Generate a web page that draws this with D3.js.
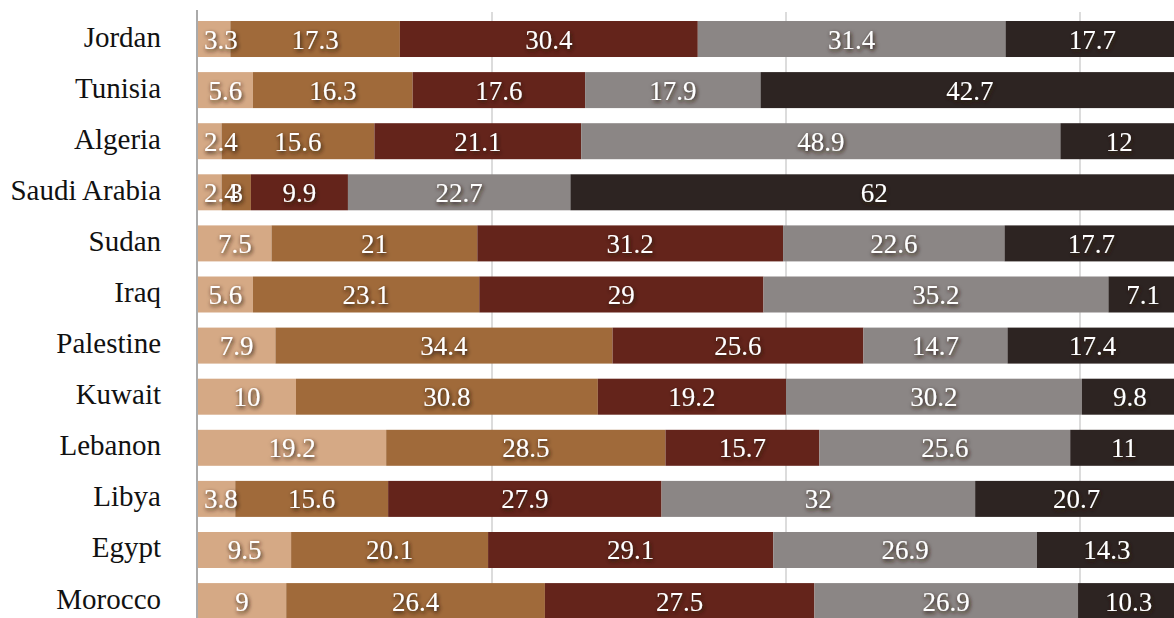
<!DOCTYPE html>
<html>
<head>
<meta charset="utf-8">
<script src="https://cdn.jsdelivr.net/npm/d3@7"></script>
<style>
  html, body { margin: 0; padding: 0; background: #fff; }
  svg { display: block; }
  text { font-family: "Liberation Serif", serif; }
</style>
</head>
<body>
<svg id="chart" width="1174" height="618"></svg>
<script>
// Countries, top to bottom
const countries = ["Jordan", "Tunisia", "Algeria", "Saudi Arabia", "Sudan", "Iraq",
  "Palestine", "Kuwait", "Lebanon", "Libya", "Egypt", "Morocco"];

// Five response shares per country (percent), stacked left to right
const share1 = [3.3, 5.6, 2.4, 2.4, 7.5, 5.6, 7.9, 10, 19.2, 3.8, 9.5, 9];
const share2 = [17.3, 16.3, 15.6, 3, 21, 23.1, 34.4, 30.8, 28.5, 15.6, 20.1, 26.4];
const share3 = [30.4, 17.6, 21.1, 9.9, 31.2, 29, 25.6, 19.2, 15.7, 27.9, 29.1, 27.5];
const share4 = [31.4, 17.9, 48.9, 22.7, 22.6, 35.2, 14.7, 30.2, 25.6, 32, 26.9, 26.9];
const share5 = [17.7, 42.7, 12, 62, 17.7, 7.1, 17.4, 9.8, 11, 20.7, 14.3, 10.3];

const gridTicks = [30, 60, 90];
const colors = ["#d5a985", "#a06a3a", "#64241b", "#8b8685", "#2d2422"];

const seriesValues = [share1, share2, share3, share4, share5];
const keys = ["s1", "s2", "s3", "s4", "s5"];
const rows = countries.map((c, i) => {
  const r = { country: c };
  keys.forEach((k, j) => r[k] = seriesValues[j][i]);
  return r;
});

const svg = d3.select("#chart");

const x = d3.scaleLinear().domain([0, 100]).range([198, 1178]);
const y = d3.scaleBand().domain(countries)
  .range([13.45, 13.45 + 12 * 51.1])
  .paddingInner(0.2955).paddingOuter(0.1478);

// Soft dark halo behind the value labels
const defs = svg.append("defs");
const f = defs.append("filter").attr("id", "halo")
  .attr("x", "-30%").attr("y", "-30%").attr("width", "160%").attr("height", "160%");
f.append("feGaussianBlur").attr("in", "SourceAlpha").attr("stdDeviation", 2).attr("result", "b");
f.append("feOffset").attr("in", "b").attr("dx", 1).attr("dy", 1.5).attr("result", "o");
f.append("feComponentTransfer").attr("in", "o").attr("result", "s")
  .append("feFuncA").attr("type", "linear").attr("slope", 1.2);
f.append("feFlood").attr("flood-color", "#2a1a12").attr("flood-opacity", 0.9).attr("result", "c");
f.append("feComposite").attr("in", "c").attr("in2", "s").attr("operator", "in").attr("result", "sh");
const m = f.append("feMerge");
m.append("feMergeNode").attr("in", "sh");
m.append("feMergeNode").attr("in", "SourceGraphic");

// Vertical gridlines
svg.append("g").selectAll("line").data(gridTicks).join("line")
  .attr("x1", d => x(d)).attr("x2", d => x(d))
  .attr("y1", 12).attr("y2", 618)
  .attr("stroke", "#d0d0d0").attr("stroke-width", 1.5);

// Stacked bars
const stack = d3.stack().keys(keys)(rows);
const layers = svg.append("g").selectAll("g").data(stack).join("g")
  .attr("fill", (d, i) => colors[i]);
layers.selectAll("rect").data(d => d).join("rect")
  .attr("x", d => x(d[0]))
  .attr("width", d => x(d[1]) - x(d[0]))
  .attr("y", d => y(d.data.country))
  .attr("height", y.bandwidth());

// Value labels centred in each segment, kept clear of the axis line
const labels = svg.append("g")
  .attr("font-size", 27).attr("fill", "#fff").attr("text-anchor", "middle")
  .attr("filter", "url(#halo)");
stack.forEach((layer, i) => {
  labels.selectAll(null).data(layer).join("text")
    .attr("y", d => y(d.data.country) + y.bandwidth() / 2 + 9.5)
    .text(d => d.data[keys[i]])
    .attr("x", function (d) {
      const w = this.getComputedTextLength();
      return Math.max((x(d[0]) + x(d[1])) / 2, 204 + w / 2);
    });
});

// Country labels
svg.append("g").selectAll("text").data(countries).join("text")
  .attr("x", 161)
  .attr("y", d => y(d) + y.bandwidth() / 2 + 7.5)
  .attr("text-anchor", "end")
  .attr("font-size", 29).attr("fill", "#111")
  .text(d => d);

// Category axis line
svg.append("line")
  .attr("x1", 197).attr("x2", 197).attr("y1", 10).attr("y2", 618)
  .attr("stroke", "#aaa").attr("stroke-width", 2);
</script>
</body>
</html>
